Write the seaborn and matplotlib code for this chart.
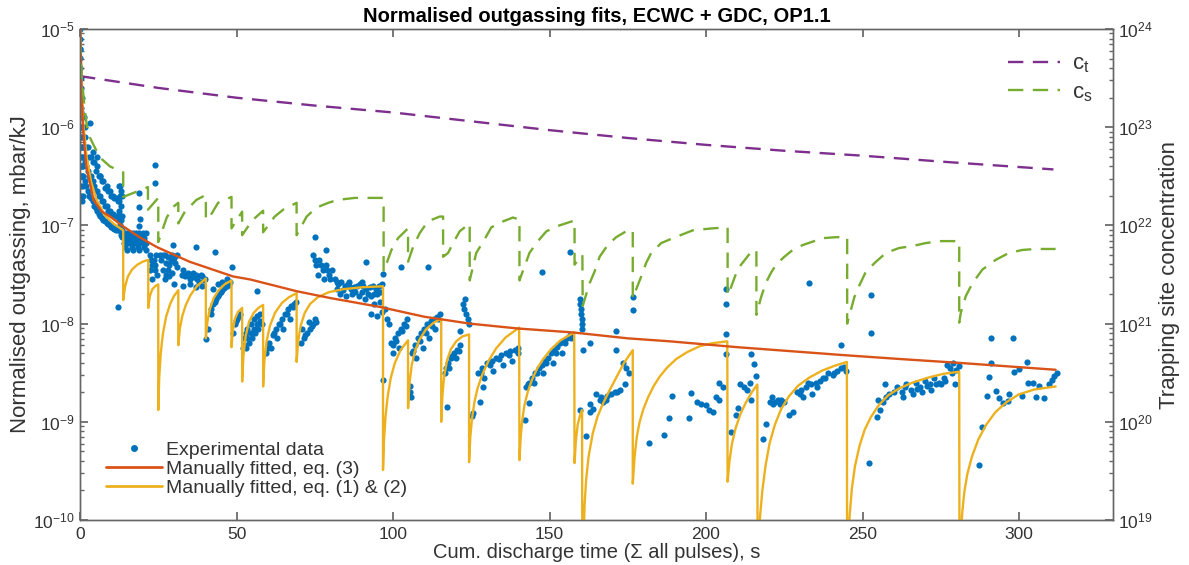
import numpy as np
import matplotlib
matplotlib.use("Agg")
import matplotlib.pyplot as plt
import seaborn as sns
from matplotlib.lines import Line2D
from matplotlib.ticker import FixedLocator, NullFormatter

# ---------------- data ----------------
# Experimental data: time (s) and log10(outgassing, mbar/kJ)
data_t_start = [0.05, 0.05, 0.1, 0.1, 0.15, 0.2, 0.25, 0.3, 0.35, 0.4, 0.5, 0.6, 0.7, 0.8, 0.9, 1.0,
                0.3, 0.5, 0.7, 0.2, 0.15, 0.3, 0.6, 0.9,
                0.1, 0.2, 0.4, 0.5, 0.6, 0.8, 1.0, 0.05, 0.1, 0.15, 0.25, 0.35, 0.45]
data_log_start = [-5.0, -5.1, -5.2, -5.3, -5.4, -5.5, -5.6, -5.7, -5.8, -5.9, -6.0, -6.1, -6.2, -6.3, -6.4, -6.5,
                  -6.0, -6.3, -6.5, -5.85, -5.2, -6.6, -6.75, -6.7,
                  -5.6, -6.2, -6.5, -5.7, -6.4, -6.6, -6.2, -5.5, -5.9, -6.3, -6.1, -6.4, -6.7]

data_t_early = [1.5, 1.5, 1.5, 2.5, 2.5, 2.5, 3.5, 3.5, 3.5, 4.5, 4.5, 4.5, 5.5, 5.5, 5.5,
                6.5, 6.5, 6.5, 7.5, 7.5, 7.5, 8.5, 8.5, 8.5, 9.5, 9.5, 9.5, 10.5, 10.5, 10.5,
                11.5, 11.5, 11.5, 12.3, 12.3, 12.3, 12.3, 12.3, 13.0, 13.0, 13.0, 13.0,
                3.2, 4.0, 5.5, 6.4, 12.2,
                1.2, 1.5, 2.0, 2.0, 2.0, 3.0, 3.0, 3.0, 4.0, 4.0, 4.0, 5.0, 5.0, 5.0, 6.0, 6.0, 6.0,
                7.0, 7.0, 7.0, 8.0, 8.0, 8.0, 9.0, 9.0, 9.0, 10.0, 10.0, 10.0, 11.0, 11.0, 11.0,
                12.0, 12.0, 12.0, 12.7, 12.7, 12.7, 12.7, 13.4, 13.4, 13.4, 13.4,
                14, 14, 15, 15, 15, 16, 16, 17, 17, 17, 18, 18, 19, 19, 19, 20, 20, 21, 21, 21,
                14.5, 15.5, 16.5, 17.5, 18.5, 19.5, 20.5, 14.5, 16.5, 18.5, 20.5,
                19, 19, 19.2, 19, 24.0, 24.0]
data_log_early = [-6.1, -6.35, -6.55, -6.2, -6.45, -6.65, -6.3, -6.5, -6.72, -6.35, -6.6, -6.8, -6.4, -6.65, -6.85,
                  -6.5, -6.7, -6.9, -6.55, -6.75, -6.95, -6.6, -6.8, -6.98, -6.65, -6.85, -7.0, -6.7, -6.88, -7.03,
                  -6.72, -6.9, -7.05, -6.6, -6.75, -6.85, -6.95, -7.05, -6.65, -6.8, -6.95, -7.1,
                  -5.96, -6.25, -6.3, -6.5, -7.83,
                  -5.9, -6.0, -6.2, -6.4, -6.6, -6.3, -6.5, -6.7, -6.35, -6.55, -6.75, -6.45, -6.65, -6.82,
                  -6.5, -6.7, -6.88, -6.55, -6.75, -6.92, -6.62, -6.8, -6.96, -6.65, -6.85, -6.99,
                  -6.7, -6.88, -7.02, -6.72, -6.9, -7.04, -6.75, -6.9, -7.05, -6.6, -6.7, -6.9, -7.0,
                  -6.7, -6.9, -7.05, -7.12,
                  -7.08, -7.18, -7.08, -7.18, -7.25, -7.08, -7.18, -7.08, -7.18, -7.25, -7.08, -7.18, -7.08, -7.18, -7.25,
                  -7.08, -7.18, -7.08, -7.18, -7.25,
                  -7.13, -7.13, -7.13, -7.13, -7.13, -7.13, -7.13, -7.22, -7.22, -7.22, -7.22,
                  -6.67, -6.81, -6.93, -7.01, -6.385, -6.57]

data_t_mid = [22.3, 22.5, 23.0, 23.5, 24.0, 24.5, 23.0, 22.8, 23.8, 24.3,
              26, 27, 28, 29, 30, 31, 26.5, 28, 29.5, 31, 27, 30, 29.8,
              25.5, 26.5, 27.5, 28.5, 29.5, 30.5, 27.5, 28.5,
              32.5, 33.5, 34.5, 35.5, 36.5, 37.5, 38.5, 39.5, 33, 35, 37, 39, 37.2, 40.4,
              33, 34, 35, 36, 37, 38, 39, 40,
              41, 41.8, 42.5, 43.5, 44.5, 45.5, 46.5, 47.5, 42.5, 44, 45.5, 47, 43, 48.4,
              42, 43, 44, 45, 46, 47, 48,
              49, 49.5, 50, 50.5, 51.2, 52, 52.5, 53, 53.5, 54.5, 55.5, 56.5, 57.5, 53, 54, 55, 56, 57, 58, 56.7,
              49.8, 50.8, 52.5, 53.5, 54.5, 55.5, 56.5, 57.5,
              59.5, 60.5, 61.5, 62.5, 63.5, 64.5, 65.5, 66.5, 67.5, 68.5, 61, 63, 65, 67,
              60, 62, 64, 66, 68, 69,
              70.5, 71.5, 72.5, 73.5, 74.5, 75.5, 71, 73, 72, 74, 75,
              74.5, 75.5, 76.5, 77.5, 78.5, 79.5, 80.5, 76, 78, 80, 75, 78.7, 75, 77, 79,
              81.5, 82.5, 83.5, 84.5, 85.5, 86.5, 87.5, 88.5, 89.5, 90.5, 91.5, 92.5, 93.5, 94.5, 95.5, 96.5,
              83, 85, 87, 89, 91, 93, 95, 91.4, 93, 95, 94, 96, 96.5, 96.8, 96.8,
              82, 84, 86, 88, 90, 92, 94, 96, 82, 86, 90]
data_log_mid = [-7.45, -7.3, -7.4, -7.35, -7.45, -7.5, -7.55, -7.35, -7.4, -7.3,
                -7.35, -7.3, -7.32, -7.36, -7.33, -7.3, -7.45, -7.45, -7.48, -7.42, -7.55, -7.6, -7.2,
                -7.3, -7.3, -7.38, -7.4, -7.3, -7.38, -7.5, -7.52,
                -7.5, -7.52, -7.48, -7.5, -7.53, -7.55, -7.5, -7.56, -7.62, -7.6, -7.63, -7.62, -7.22, -8.16,
                -7.45, -7.5, -7.55, -7.48, -7.5, -7.58, -7.52, -7.55,
                -8.05, -7.9, -7.8, -7.75, -7.7, -7.66, -7.62, -7.6, -7.65, -7.6, -7.58, -7.55, -7.27, -7.42,
                -7.85, -7.78, -7.72, -7.68, -7.64, -7.62, -7.58,
                -8.1, -8.0, -7.95, -7.92, -7.9, -8.25, -8.15, -8.1, -8.05, -8.0, -7.95, -7.92, -7.9,
                -8.25, -8.2, -8.15, -8.1, -8.05, -8.0, -7.67,
                -7.97, -7.92, -8.22, -8.15, -8.1, -8.05, -8.0, -7.97,
                -8.3, -8.2, -8.12, -8.05, -8.0, -7.95, -7.9, -7.85, -7.82, -7.8, -8.25, -8.15, -8.05, -7.95,
                -8.25, -8.1, -8.0, -7.9, -7.83, -7.78,
                -8.2, -8.15, -8.1, -8.05, -8.0, -7.98, -8.05, -7.98, -8.12, -8.02, -7.95,
                -7.3, -7.4, -7.35, -7.45, -7.4, -7.5, -7.45, -7.5, -7.55, -7.55, -7.12, -7.25, -7.35, -7.4, -7.45,
                -7.55, -7.6, -7.58, -7.62, -7.6, -7.65, -7.63, -7.62, -7.6, -7.62, -7.65, -7.63, -7.62, -7.65, -7.62, -7.6,
                -7.7, -7.72, -7.7, -7.72, -7.75, -7.72, -7.7, -7.37, -7.9, -7.92, -7.8, -7.78, -7.88, -7.49, -8.57,
                -7.65, -7.66, -7.62, -7.68, -7.68, -7.7, -7.7, -7.68, -7.58, -7.58, -7.58]

data_t_late = [97.5, 98.2, 98.8, 99.5, 100.5, 101.5, 102.5, 103.5, 104.5, 100, 102, 102.7, 105.3, 105.3, 105.8,
               100, 101, 103, 104,
               106, 107, 108, 109, 110, 111, 112, 113, 114, 115, 107.5, 109.5, 111.5, 113.5, 111.2,
               106.5, 108.5, 110.5, 112.5, 114.5,
               116.5, 117.5, 118.5, 119.5, 120.5, 121.5, 118, 120, 122.3, 122.8, 123.3, 123.8, 124.2, 123,
               121.3, 117.4, 125.2, 127.7, 128.7, 117, 119, 121,
               127, 128.5, 130, 131.5, 133, 134.5, 136, 137.5, 139, 140, 129, 132, 135, 138, 125.5,
               128, 131, 134, 137, 140,
               142.5, 143.5, 144.5, 145.5, 146.5, 147.5, 148.5, 149.5, 150.5, 151.5, 152.5, 153.5, 154.5, 155.5,
               156.5, 145, 148, 151, 154, 142.2, 143.6, 156.6, 147.7,
               143, 146, 149, 152, 155, 157,
               159.6, 159.8, 160.0, 160.2, 160.3, 160.4, 160.5, 160.6, 162.8, 159.6, 162.8, 161.7, 162.8, 163.8,
               165, 166.5, 168, 169.5, 171, 172.5, 167, 174, 171.3, 171.3, 173.5, 174.5, 175.5, 176.6, 176.6,
               166, 168.5, 171.5,
               181.9, 186.7]
data_log_late = [-7.85, -7.95, -8.0, -8.2, -8.15, -8.1, -8.05, -8.0, -7.95, -8.3, -8.25, -7.42, -8.64, -8.7, -8.75,
                 -8.22, -8.18, -8.08, -8.02,
                 -8.3, -8.22, -8.15, -8.1, -8.05, -8.0, -7.97, -7.95, -7.93, -7.9, -8.35, -8.25, -8.15, -8.05, -7.42,
                 -8.28, -8.18, -8.1, -8.02, -7.95,
                 -8.5, -8.4, -8.35, -8.3, -8.27, -8.22, -8.45, -8.35, -7.8, -7.85, -7.9, -7.95, -8.0, -7.75,
                 -8.08, -8.85, -8.94, -8.8, -8.65, -8.45, -8.33, -8.28,
                 -8.5, -8.45, -8.4, -8.38, -8.35, -8.32, -8.3, -8.28, -8.27, -8.25, -8.55, -8.48, -8.42, -8.38, -8.91,
                 -8.5, -8.42, -8.36, -8.32, -8.3,
                 -8.65, -8.6, -8.55, -8.5, -8.45, -8.42, -8.38, -8.35, -8.3, -8.27, -8.24, -8.2, -8.18, -8.15,
                 -8.12, -8.6, -8.5, -8.4, -8.3, -8.98, -8.81, -7.27, -7.47,
                 -8.62, -8.5, -8.4, -8.3, -8.2, -8.15,
                 -7.75, -7.8, -7.85, -7.9, -7.95, -8.0, -8.05, -8.27, -8.2, -8.88, -8.9, -9.14, -8.82, -8.87,
                 -8.72, -8.75, -8.78, -8.72, -8.7, -8.68, -8.8, -8.61, -8.08, -8.27, -8.4, -8.45, -8.5, -7.73, -7.86,
                 -8.78, -8.74, -8.7,
                 -9.22, -9.13]

data_t_end = [188.3, 194.7, 189, 195.3, 197, 198.5, 200, 201.1, 202.1, 203.3, 204.3, 205.3, 204.3,
              206.5, 206.5, 206.5, 206.5,
              208, 209.6, 210.1, 211, 212, 213, 214, 214.4, 215.4, 215.9, 214.4,
              218.3, 219.3, 220.5, 222, 223.5, 225, 221, 224, 226.6, 227.7, 229, 230.5, 232, 233.5, 235, 236.5,
              231, 234, 237.5, 239, 240.5, 242, 233, 243.2, 244.2, 244.7,
              221.5, 223, 230, 232.5, 235.5, 238, 241, 243,
              252.2, 252.7, 252.7, 254.5, 255.5, 256.5, 257.5, 258.5, 255, 257.3, 261, 262.5, 264, 265.5, 267,
              268.5, 270, 271.5, 273, 274.5, 276, 263, 266, 269, 272, 275, 277, 278, 279, 280, 278.5, 279.7, 280.9,
              260, 263.5, 267.5, 270.5, 273.5, 276.5,
              287.3, 288.3, 289.9, 290.5, 291, 291, 292.6, 293.7, 294.8, 296.4, 296.9, 298, 298.5, 300, 301.1,
              302.7, 303, 304.6, 305.4, 306.4, 307.9, 309.6, 310.7, 311.2, 312]
data_log_end = [-8.96, -8.96, -8.74, -8.71, -8.8, -8.82, -8.83, -8.88, -8.9, -8.75, -8.6, -8.65, -8.78,
                -7.65, -7.8, -8.11, -8.31,
                -9.1, -8.93, -8.86, -8.62, -8.65, -8.68, -8.6, -8.31, -8.41, -8.53, -8.78,
                -9.17, -9.02, -8.8, -8.8, -8.82, -8.8, -8.75, -8.78, -8.93, -8.9, -8.7, -8.68, -8.65, -8.62, -8.6,
                -8.58, -8.75, -8.72, -8.55, -8.5, -8.52, -8.48, -7.59, -8.22, -8.44, -8.48,
                -8.82, -8.78, -8.72, -8.6, -8.65, -8.55, -8.5, -8.45,
                -9.42, -7.71, -8.1, -8.95, -8.88, -8.8, -8.75, -8.72, -8.78, -8.62, -8.65, -8.7, -8.62, -8.68, -8.6,
                -8.65, -8.58, -8.62, -8.55, -8.6, -8.55, -8.75, -8.72, -8.7, -8.68, -8.62, -8.42, -8.45, -8.4, -8.47,
                -8.5, -8.61, -8.43,
                -8.7, -8.65, -8.67, -8.64, -8.62, -8.58,
                -9.44, -9.05, -8.74, -8.54, -8.15, -8.40, -8.69, -8.76, -8.81, -8.79, -8.72, -8.15, -8.49, -8.46,
                -8.74, -8.39, -8.6, -8.6, -8.75, -8.64, -8.76, -8.61, -8.57, -8.53, -8.5]

# Manually fitted, eq. (3): time (s), log10(mbar/kJ)
eq3_t = [0.1, 0.5, 1.0, 2.0, 4.3, 7.0, 9.6, 13.8, 19.0, 24.5, 35.0, 48.9, 54.3, 69.2, 80.0, 95.8, 110.0,
         124.5, 140.0, 157.5, 175.0, 188.3, 210.0, 243.6, 261.7, 281.0, 311.7]
eq3_log = [-5.0, -5.65, -6.03, -6.4, -6.74, -6.86, -6.91, -7.01, -7.12, -7.22, -7.37, -7.52, -7.55, -7.67,
           -7.74, -7.83, -7.93, -8.0, -8.05, -8.09, -8.15, -8.18, -8.24, -8.32, -8.36, -8.40, -8.47]

# Manually fitted, eq. (1) & (2): time (s), log10(mbar/kJ); -11 lies below the axis
eq12_t = [0.1, 0.5, 1.0, 2.1, 3.5, 5.3, 8.0, 10.6, 13.8,
          13.8, 14.4, 15.3, 16.6, 18.3, 20.0, 21.8,
          21.8, 22.3, 23.1, 24.0, 25.0,
          25.0, 25.3, 25.8, 26.5, 27.5, 28.8, 30.0, 31.4,
          31.4, 31.9, 32.7, 33.8, 35.3, 37.3, 40.2,
          40.2, 40.7, 41.5, 42.7, 44.3, 46.2, 48.4,
          48.4, 48.8, 49.5, 50.5, 51.8,
          51.8, 52.2, 52.9, 54.0, 55.5, 57.0, 58.5,
          58.5, 58.9, 59.6, 60.7, 62.3, 64.5, 66.8, 69.2,
          69.2, 69.7, 70.5, 71.8, 73.5, 76.0, 79.5, 84.0, 90.0, 96.8,
          96.8, 97.1, 97.6, 98.3, 99.3, 100.6, 102.4, 104.8,
          104.8, 105.3, 106.0, 107.0, 108.5, 110.5, 113.0, 115.4,
          115.4, 115.8, 116.4, 117.3, 118.5, 120.2, 122.2, 124.3,
          124.3, 124.7, 125.2, 126.0, 127.0, 128.5, 130.5, 133.0, 136.0, 140.3,
          140.4, 140.8, 141.3, 142.0, 143.0, 144.3, 146.0, 148.0, 150.5, 153.5, 157.9,
          158.0, 158.4, 159.0, 159.7, 160.4,
          160.5, 160.8, 161.2, 161.7, 162.5, 163.8, 165.3, 167.0, 169.0, 171.3, 173.8, 176.6,
          176.6, 177.2, 177.9, 178.8, 180.0, 181.5, 183.2, 185.2, 187.5, 190.5, 194.0, 198.0, 202.0, 206.8,
          206.9, 207.5, 208.3, 209.5, 211.0, 212.8, 214.6, 216.4,
          216.5, 216.8, 217.3, 218.0, 219.0, 220.3, 222.0, 224.0, 226.5, 229.5, 233.0, 237.0, 241.0, 245.0,
          245.1, 245.4, 245.9, 246.6, 247.6, 249.0, 250.7, 252.7, 255.2, 258.2, 261.7, 266.0, 271.0, 276.0, 280.9,
          281.0, 281.3, 281.8, 282.5, 283.5, 285.0, 287.0, 289.5, 292.5, 296.0, 300.0, 305.0, 311.7]
eq12_log = [-5.0, -5.55, -5.95, -6.3, -6.55, -6.74, -6.9, -6.98, -7.05,
            -7.76, -7.62, -7.52, -7.45, -7.4, -7.37, -7.35,
            -7.84, -7.72, -7.65, -7.62, -7.6,
            -8.88, -8.55, -8.3, -8.1, -7.93, -7.8, -7.72, -7.66,
            -8.22, -8.05, -7.92, -7.81, -7.71, -7.62, -7.54,
            -8.15, -7.98, -7.85, -7.74, -7.66, -7.6, -7.56,
            -8.24, -8.07, -7.95, -7.88, -7.84,
            -8.59, -8.33, -8.13, -7.98, -7.89, -7.84, -7.81,
            -8.64, -8.38, -8.18, -8.02, -7.89, -7.79, -7.73, -7.69,
            -8.39, -8.18, -8.02, -7.89, -7.8, -7.73, -7.68, -7.65, -7.63, -7.62,
            -9.49, -9.2, -8.95, -8.74, -8.55, -8.4, -8.27, -8.17,
            -8.86, -8.6, -8.42, -8.28, -8.16, -8.06, -7.99, -7.95,
            -9.0, -8.72, -8.52, -8.37, -8.26, -8.18, -8.13, -8.11,
            -9.41, -9.15, -8.98, -8.8, -8.66, -8.52, -8.38, -8.25, -8.14, -8.04,
            -9.39, -9.15, -8.98, -8.83, -8.7, -8.58, -8.46, -8.36, -8.26, -8.17, -8.09,
            -9.42, -9.2, -9.03, -8.94, -8.88,
            -11.0, -10.3, -9.85, -9.59, -9.35, -9.12, -8.95, -8.82, -8.69, -8.55, -8.4, -8.27,
            -9.63, -9.35, -9.15, -9.0, -8.87, -8.75, -8.64, -8.54, -8.45, -8.36, -8.29, -8.23, -8.2, -8.18,
            -9.61, -9.4, -9.22, -9.06, -8.92, -8.8, -8.7, -8.62,
            -11.0, -10.3, -9.95, -9.7, -9.45, -9.22, -9.03, -8.87, -8.74, -8.63, -8.55, -8.48, -8.43, -8.39,
            -11.0, -10.3, -9.95, -9.68, -9.45, -9.25, -9.08, -8.95, -8.83, -8.73, -8.66, -8.6, -8.55, -8.51, -8.49,
            -11.0, -10.3, -9.95, -9.72, -9.53, -9.35, -9.18, -9.03, -8.9, -8.8, -8.72, -8.67, -8.64]

# c_t: time (s), log10(trapping site concentration)
ct_t = [0, 25, 50, 75, 100, 125, 150, 175, 200, 225, 250, 275, 311]
ct_log = [23.52, 23.40, 23.30, 23.22, 23.15, 23.06, 22.97, 22.89, 22.82, 22.76, 22.71, 22.65, 22.57]

# c_s: time (s), log10(trapping site concentration)
cs_t = [0.0, 0.5, 1.5, 2.5, 4.3, 6.4, 9.6, 13.8,
        13.8, 17.0, 21.7,
        21.7, 25.0,
        25.0, 27.7, 29.8, 31.4,
        31.4, 33.5, 37.2, 40.2,
        40.2, 41.5, 44.1, 48.4,
        48.4, 51.8,
        51.8, 55.0, 58.5,
        58.5, 62.2, 64.9, 69.2,
        69.2, 72.4, 75.5, 79.3, 82.4, 87.8, 92.6, 97.0,
        97.0, 99.5, 101.6, 104.8,
        104.8, 106.4, 108.5, 111.1, 114.9, 116.0,
        116.0, 117.6, 119.2, 121.3, 124.5,
        124.5, 126.6, 129.3, 131.4, 135.1, 138.3, 140.4,
        140.4, 143.6, 146.3, 149.0, 153.2, 158.0,
        158.0, 160.5,
        160.6, 162.8, 164.4, 166.0, 168.6, 171.3, 175.0, 176.6,
        176.6, 179.3, 180.9, 182.5, 185.7, 189.4, 195.8, 202.1, 206.9,
        206.9, 208.0, 209.6, 211.2, 214.4, 216.1,
        216.1, 217.6, 219.2, 220.8, 222.4, 225.0, 227.7, 230.9, 234.6, 237.3, 241.5, 245.1,
        245.1, 247.4, 249.0, 251.1, 254.3, 257.5, 261.7, 266.0, 270.2, 274.5, 280.9,
        280.9, 281.4, 283.0, 285.1, 288.3, 292.6, 296.8, 301.1, 305.4, 311.7]
cs_log = [23.9, 23.53, 23.18, 22.94, 22.82, 22.69, 22.6, 22.54,
          22.29, 22.33, 22.39,
          22.16, 22.28,
          21.83, 22.08, 22.19, 22.23,
          22.02, 22.14, 22.26, 22.31,
          22.06, 22.09, 22.23, 22.29,
          21.97, 22.14,
          21.9, 22.05, 22.15,
          21.93, 22.09, 22.16, 22.23,
          21.9, 22.09, 22.18, 22.23, 22.26, 22.28, 22.28, 22.28,
          21.53, 21.75, 21.87, 21.97,
          21.63, 21.78, 21.92, 22.04, 22.09, 22.09,
          21.68, 21.72, 21.82, 21.94, 22.02,
          21.44, 21.72, 21.86, 21.98, 22.04, 22.08, 22.06,
          21.44, 21.72, 21.84, 21.94, 22.0, 22.05,
          21.6, 21.7,
          21.18, 21.41, 21.53, 21.68, 21.8, 21.88, 21.95, 21.95,
          21.26, 21.48, 21.62, 21.72, 21.82, 21.87, 21.95, 21.97, 21.98,
          21.29, 21.37, 21.51, 21.6, 21.73, 21.75,
          21.09, 21.27, 21.42, 21.52, 21.6, 21.68, 21.75, 21.8, 21.84, 21.87, 21.88, 21.88,
          21.0, 21.27, 21.39, 21.53, 21.63, 21.72, 21.77, 21.79, 21.82, 21.84, 21.84,
          21.01, 21.11, 21.28, 21.41, 21.55, 21.65, 21.72, 21.75, 21.76, 21.76]

x_ticks = [0, 50, 100, 150, 200, 250, 300]
left_decades = [1e-10, 1e-9, 1e-8, 1e-7, 1e-6, 1e-5]
right_decades = [1e19, 1e20, 1e21, 1e22, 1e23, 1e24]
minor_mult = [2, 3, 4, 5, 6, 7, 8, 9]

# ---------------- style ----------------
sns.set_theme(style="white")
plt.rcParams['font.family'] = ['Liberation Sans', 'DejaVu Sans']
plt.rcParams['mathtext.fontset'] = 'custom'
plt.rcParams['mathtext.rm'] = 'Liberation Sans'
plt.rcParams['mathtext.it'] = 'Liberation Sans:italic'
plt.rcParams['mathtext.bf'] = 'Liberation Sans:bold'

C_BLUE = '#0072BD'
C_ORANGE = '#D95319'
C_YELLOW = '#EDB120'
C_PURPLE = '#7E2F8E'
C_GREEN = '#77AC30'
AX_COL = '#666666'
TXT_COL = '#333333'
DASH = (0, (6.5, 4.0))

fig = plt.figure(figsize=(11.89, 5.65), dpi=100)
ax = fig.add_axes([0.0673, 0.0796, 0.936 - 0.0673, 0.9487 - 0.0796])
ax2 = ax.twinx()

# experimental data
data_t = data_t_start + data_t_early + data_t_mid + data_t_late + data_t_end
data_log = data_log_start + data_log_early + data_log_mid + data_log_late + data_log_end
sns.scatterplot(x=data_t, y=10.0 ** np.array(data_log), ax=ax, color=C_BLUE, s=20,
                linewidth=0, marker='o', legend=False, zorder=2)

sns.lineplot(x=eq3_t, y=10.0 ** np.array(eq3_log), ax=ax, color=C_ORANGE, lw=1.7,
             sort=False, estimator=None, legend=False, zorder=4)
sns.lineplot(x=eq12_t, y=10.0 ** np.array(eq12_log), ax=ax, color=C_YELLOW, lw=1.7,
             sort=False, estimator=None, legend=False, zorder=3)

sns.lineplot(x=ct_t, y=10.0 ** np.array(ct_log), ax=ax2, color=C_PURPLE, lw=1.7,
             sort=False, estimator=None, legend=False, linestyle=DASH)
sns.lineplot(x=cs_t, y=10.0 ** np.array(cs_log), ax=ax2, color=C_GREEN, lw=1.7,
             sort=False, estimator=None, legend=False, linestyle=DASH)

# axes setup
ax.set_yscale('log')
ax.set_ylim(1e-10, 1e-5)
ax.set_xlim(0, 330)
ax2.set_yscale('log')
ax2.set_ylim(1e19, 1e24)
ax2.set_xlim(0, 330)
ax.set_xticks(x_ticks)
ax.set_xticklabels([str(v) for v in x_ticks])

for a, decs in ((ax, left_decades), (ax2, right_decades)):
    for sp in a.spines.values():
        sp.set_color(AX_COL)
        sp.set_linewidth(1.0)
    a.yaxis.set_major_locator(FixedLocator(decs))
    a.yaxis.set_minor_locator(FixedLocator([d * m for d in decs[:-1] for m in minor_mult]))
    a.yaxis.set_minor_formatter(NullFormatter())

ax.tick_params(axis='x', which='both', direction='in', top=True, bottom=True, length=6,
               color=AX_COL, labelcolor=TXT_COL, labelsize=12.5, pad=5)
ax.tick_params(axis='y', which='major', direction='in', left=True, right=False, length=6,
               color=AX_COL, labelcolor=TXT_COL, labelsize=12.5, pad=4)
ax.tick_params(axis='y', which='minor', direction='in', left=True, right=False, length=3, color=AX_COL)
ax2.tick_params(axis='y', which='major', direction='in', right=True, left=False, length=6,
                color=AX_COL, labelcolor=TXT_COL, labelsize=12.5, pad=4)
ax2.tick_params(axis='y', which='minor', direction='in', right=True, left=False, length=3, color=AX_COL)
ax2.tick_params(axis='x', which='both', top=False, bottom=False, labelbottom=False)

ax.set_xlabel('Cum. discharge time (\u03a3 all pulses), s', fontsize=14.5, color=TXT_COL, labelpad=1)
ax.set_ylabel('Normalised outgassing, mbar/kJ', fontsize=16, color=TXT_COL, labelpad=1)
ax2.set_ylabel('Trapping site concentration', fontsize=16, color=TXT_COL, labelpad=4)
ax.set_title('Normalised outgassing fits, ECWC + GDC, OP1.1', fontsize=14.5, fontweight='bold',
             color='black', pad=5)

# legends
h_data = Line2D([], [], color=C_BLUE, marker='o', markersize=4, linestyle='none')
h_eq3 = Line2D([], [], color=C_ORANGE, lw=2.0)
h_eq12 = Line2D([], [], color=C_YELLOW, lw=2.0)
leg1 = ax.legend([h_data, h_eq3, h_eq12],
                 ['Experimental data', 'Manually fitted, eq. (3)', 'Manually fitted, eq. (1) & (2)'],
                 loc='lower left', bbox_to_anchor=(0.01, 0.015), frameon=False, fontsize=14,
                 handlelength=2.9, handletextpad=0.2, labelspacing=0.08, borderpad=0.3)
for t in leg1.get_texts():
    t.set_color(TXT_COL)

h_ct = Line2D([], [], color=C_PURPLE, lw=1.7, linestyle=DASH)
h_cs = Line2D([], [], color=C_GREEN, lw=1.7, linestyle=DASH)
leg2 = ax2.legend([h_ct, h_cs], [r'$\mathregular{c_t}$', r'$\mathregular{c_s}$'],
                  loc='upper right', bbox_to_anchor=(1.0, 0.99), frameon=False, fontsize=16,
                  handlelength=2.35, handletextpad=0.55, labelspacing=0.3)
for t in leg2.get_texts():
    t.set_color(TXT_COL)

fig.savefig('out.png', dpi=100)
